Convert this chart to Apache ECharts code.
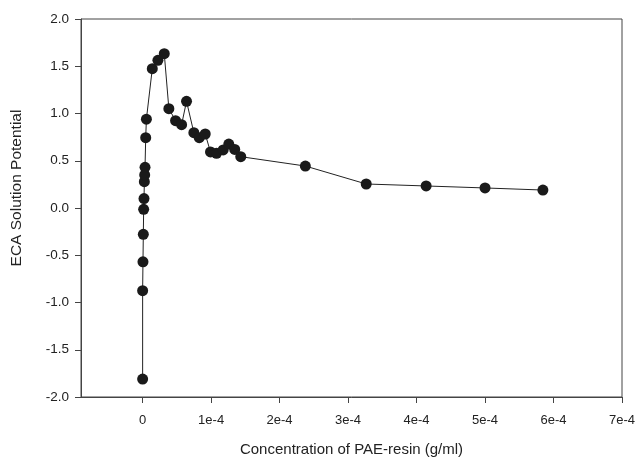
<!DOCTYPE html>
<html><head><meta charset="utf-8">
<script src="https://cdn.jsdelivr.net/npm/echarts@6/dist/echarts.min.js"></script>
<style>html,body{margin:0;padding:0;background:#fff}#c{width:636px;height:459px}</style>
</head><body><div id="c"></div>
<script>
const concentration = [0, 0, 0.5e-6, 1e-6, 1.5e-6, 2e-6, 2.5e-6, 3e-6, 3.5e-6, 4.5e-6, 5.5e-6,
  1.41e-5, 2.23e-5, 3.16e-5, 3.83e-5, 4.81e-5, 5.69e-5, 6.41e-5, 7.48e-5, 8.27e-5, 9.14e-5,
  9.91e-5, 1.079e-4, 1.176e-4, 1.258e-4, 1.345e-4, 1.433e-4, 2.376e-4, 3.265e-4, 4.14e-4, 5.0e-4, 5.845e-4];
const potential = [-1.81, -0.875, -0.57, -0.278, -0.014, 0.10, 0.278, 0.35, 0.43, 0.744, 0.94,
  1.474, 1.563, 1.633, 1.051, 0.924, 0.882, 1.129, 0.797, 0.744, 0.783,
  0.593, 0.579, 0.614, 0.677, 0.62, 0.543, 0.444, 0.254, 0.233, 0.212, 0.19];
const xTicks = [0, 0.0001, 0.0002, 0.0003, 0.0004, 0.0005, 0.0006, 0.0007];
const xTickLabels = ['0', '1e-4', '2e-4', '3e-4', '4e-4', '5e-4', '6e-4', '7e-4'];

const data = concentration.map((x, i) => [x, potential[i]]);
const axisColor = '#444';
const font = 'Liberation Sans, Arial, sans-serif';
const chart = echarts.init(document.getElementById('c'));
chart.setOption({
  animation: false,
  grid: {left: 81, right: 14, top: 19, bottom: 62, show: true, borderColor: axisColor, borderWidth: 1,
    backgroundColor: 'transparent', containLabel: false, outerBoundsMode: 'none'},
  xAxis: {
    type: 'value', min: -0.00009, max: 0.0007,
    name: 'Concentration of PAE-resin (g/ml)', nameLocation: 'middle', nameGap: 45,
    nameTextStyle: {fontFamily: font, fontSize: 15, color: '#222'},
    axisLine: {show: true, onZero: false, lineStyle: {color: axisColor, width: 1}},
    axisTick: {show: true, length: 6, customValues: xTicks, lineStyle: {color: axisColor}},
    axisLabel: {customValues: xTicks, margin: 17, fontFamily: font, fontSize: 13, color: '#222',
      formatter: v => { const i = xTicks.findIndex(t => Math.abs(t - v) < 1e-9); return i >= 0 ? xTickLabels[i] : ''; }},
    splitLine: {show: false}
  },
  yAxis: {
    type: 'value', min: -2, max: 2, interval: 0.5,
    name: 'ECA Solution Potential', nameLocation: 'middle', nameGap: 56,
    nameTextStyle: {fontFamily: font, fontSize: 15.5, color: '#222', padding: [0, 0, 0, 40]},
    axisLine: {show: true, onZero: false, lineStyle: {color: axisColor, width: 1}},
    axisTick: {show: true, length: 6, lineStyle: {color: axisColor}},
    axisLabel: {margin: 12, fontFamily: font, fontSize: 13.5, color: '#222', formatter: v => v.toFixed(1)},
    splitLine: {show: false}
  },
  series: [{
    type: 'line', data: data, symbol: 'circle', symbolSize: 11,
    lineStyle: {color: '#222', width: 1},
    itemStyle: {color: '#1a1a1a'}
  }]
});
</script></body></html>
